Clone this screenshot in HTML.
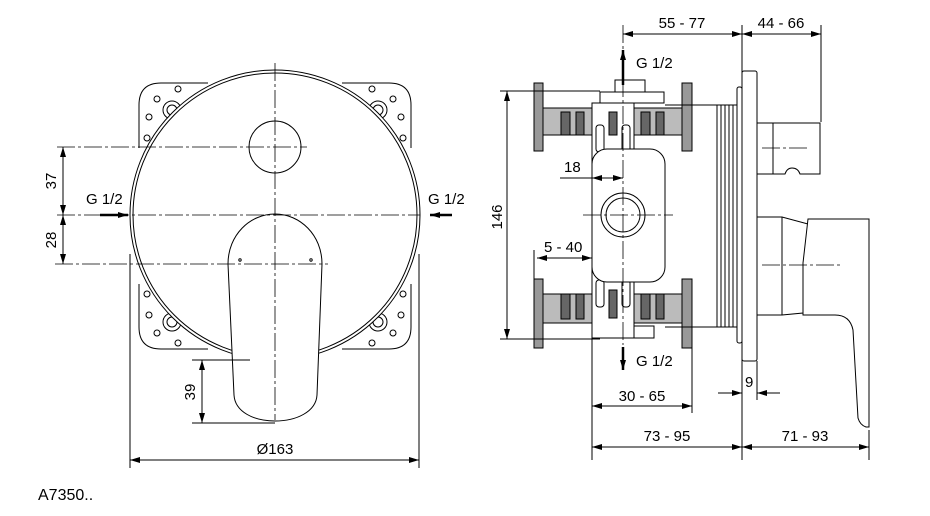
<!DOCTYPE html>
<html><head><style>body{margin:0;background:#fff}svg{display:block}text{font-family:"Liberation Sans",sans-serif;font-size:15px;fill:#000}</style></head><body>
<svg width="930" height="516" viewBox="0 0 930 516" xmlns="http://www.w3.org/2000/svg">
<defs>
<marker id="a" viewBox="0 0 10 6" refX="10" refY="3" markerWidth="10" markerHeight="6" orient="auto-start-reverse" markerUnits="userSpaceOnUse"><path d="M0,0L10,3L0,6z" fill="#000"/></marker>
<g id="br" fill="none" stroke="#000" stroke-width="1">
<path d="M139,148 V105 Q139,83 161,83 H208"/>
<circle cx="178" cy="89" r="3"/><circle cx="157" cy="99" r="3"/><circle cx="149" cy="117" r="3"/><circle cx="147" cy="138" r="3"/>
<circle cx="172" cy="110" r="9"/><circle cx="172" cy="110" r="5"/>
</g>
</defs>
<g stroke="#000" fill="none" stroke-width="1">
<use href="#br"/>
<use href="#br" transform="translate(550,0) scale(-1,1)"/>
<use href="#br" transform="translate(0,432) scale(1,-1)"/>
<use href="#br" transform="translate(550,432) scale(-1,-1)"/>
<circle cx="275" cy="215" r="145" fill="#fff"/>
<circle cx="275" cy="215" r="142"/>
<circle cx="275" cy="147" r="26"/>
<path d="M275,214 C300,214 322,235 322,264 L317,395 C316,412 296,421 275,421 C254,421 235,412 234,395 L228,264 C228,235 250,214 275,214 Z" fill="#fff"/>
<circle cx="240" cy="260" r="1.2"/><circle cx="311" cy="260" r="1.2"/>
<g stroke-dasharray="18,3,3,3" stroke-width="0.8">
<path d="M57,147H307M57,215H420M55,264H328M275,63V420"/>
</g>
<path d="M63,147V215" marker-start="url(#a)" marker-end="url(#a)"/>
<path d="M63,215V264" marker-start="url(#a)" marker-end="url(#a)"/>
<path d="M192,360H250M192,423H275"/>
<path d="M202,360V423" marker-start="url(#a)" marker-end="url(#a)"/>
<path d="M130,254V468M419,254V468"/>
<path d="M130,460H419" marker-start="url(#a)" marker-end="url(#a)"/>
<path d="M100,215H128" stroke-width="2.5" marker-end="url(#a)"/>
<path d="M452,215H430" stroke-width="2.5" marker-end="url(#a)"/>
</g>
<text x="86" y="204">G 1/2</text>
<text x="428" y="204">G 1/2</text>
<text transform="translate(56,181) rotate(-90)" text-anchor="middle">37</text>
<text transform="translate(56,240) rotate(-90)" text-anchor="middle">28</text>
<text transform="translate(195,392) rotate(-90)" text-anchor="middle">39</text>
<text x="275" y="454" text-anchor="middle">Ø163</text>
<text x="38" y="500" style="font-size:16px">A7350..</text>

<g stroke="#000" stroke-width="1" fill="none">
<rect x="543" y="108" width="139" height="27" fill="#bbb"/>
<rect x="543" y="294" width="139" height="29" fill="#bbb"/>
<g fill="#666"><rect x="561" y="112" width="9" height="23"/><rect x="576" y="112" width="8" height="23"/><rect x="641" y="112" width="9" height="23"/><rect x="656" y="112" width="8" height="23"/>
<rect x="561" y="294" width="9" height="25"/><rect x="576" y="294" width="8" height="25"/><rect x="641" y="294" width="9" height="25"/><rect x="656" y="294" width="8" height="25"/></g>
<rect x="534" y="83" width="9" height="68" fill="#999"/><rect x="534" y="279" width="9" height="69" fill="#999"/>
<rect x="682" y="83" width="10" height="68" fill="#999"/><rect x="682" y="279" width="10" height="69" fill="#999"/>
<rect x="600" y="92" width="64" height="11" fill="#fff"/>
<rect x="615" y="80" width="30" height="12" fill="#fff"/>
<rect x="600" y="326" width="54" height="12" fill="#fff"/>
<rect x="592" y="103" width="42" height="235" fill="#fff"/>
<rect x="596" y="125" width="8" height="27" rx="3"/><rect x="622" y="125" width="8" height="27" rx="3"/>
<rect x="596" y="280" width="8" height="27" rx="3"/><rect x="622" y="280" width="8" height="27" rx="3"/>
<rect x="609" y="112" width="8" height="23" fill="#666"/><rect x="609" y="290" width="8" height="28" fill="#666"/>
<path d="M665,105H717V327H665"/>
<rect x="717" y="105" width="20" height="222"/>
<path d="M721,105V327M725,105V327M729,105V327M733,105V327"/>
<rect x="592" y="149" width="73" height="133" rx="15" fill="#fff"/>
<circle cx="623" cy="215" r="22"/><circle cx="623" cy="215" r="17"/>
<rect x="737" y="87" width="5" height="256" rx="2"/>
<rect x="742" y="71" width="15" height="290" rx="2"/>
<rect x="757" y="123" width="16" height="51"/>
<path d="M773,123H820V174H800Q798,168 792,168Q787,168 785,174H773Z"/>
<path d="M757,217H782L808,224L803,313L782,315H757"/>
<path d="M782,217V315"/>
<path d="M808,219H869V427H866Q860,425 858,418L853,330Q850,315 835,315H803V263Z" fill="#fff"/>
<g stroke-dasharray="18,3,3,3" stroke-width="0.8"><path d="M623,25V345M583,215H673M762,148H808M762,265H840"/></g>
<path d="M623,85V50" stroke-width="2.5" marker-end="url(#a)"/>
<path d="M623,347V370" stroke-width="2.5" marker-end="url(#a)"/>
<path d="M742,25V460M821,25V122"/>
<path d="M623,34H742" marker-start="url(#a)" marker-end="url(#a)"/>
<path d="M742,34H821" marker-start="url(#a)" marker-end="url(#a)"/>
<path d="M500,91H600M500,339H600"/>
<path d="M507,91V339" marker-start="url(#a)" marker-end="url(#a)"/>
<path d="M560,178H592"/><path d="M592,178H623" marker-start="url(#a)" marker-end="url(#a)"/>
<path d="M534,250V279"/><path d="M537,258H592" marker-start="url(#a)" marker-end="url(#a)"/>
<path d="M592,338V460M692,348V413M869,430V460M757,361V400"/>
<path d="M592,406H692" marker-start="url(#a)" marker-end="url(#a)"/>
<path d="M592,447H742" marker-start="url(#a)" marker-end="url(#a)"/>
<path d="M742,447H869" marker-start="url(#a)" marker-end="url(#a)"/>
<path d="M718,393H742" marker-end="url(#a)"/><path d="M780,393H757" marker-end="url(#a)"/>
</g>
<text x="682" y="28" text-anchor="middle">55 - 77</text>
<text x="781" y="28" text-anchor="middle">44 - 66</text>
<text x="636" y="68">G 1/2</text>
<text x="636" y="366">G 1/2</text>
<text x="564" y="172">18</text>
<text x="544" y="252">5 - 40</text>
<text transform="translate(502,217) rotate(-90)" text-anchor="middle">146</text>
<text x="642" y="401" text-anchor="middle">30 - 65</text>
<text x="667" y="441" text-anchor="middle">73 - 95</text>
<text x="805" y="441" text-anchor="middle">71 - 93</text>
<text x="745" y="387">9</text>
</svg>
</body></html>
